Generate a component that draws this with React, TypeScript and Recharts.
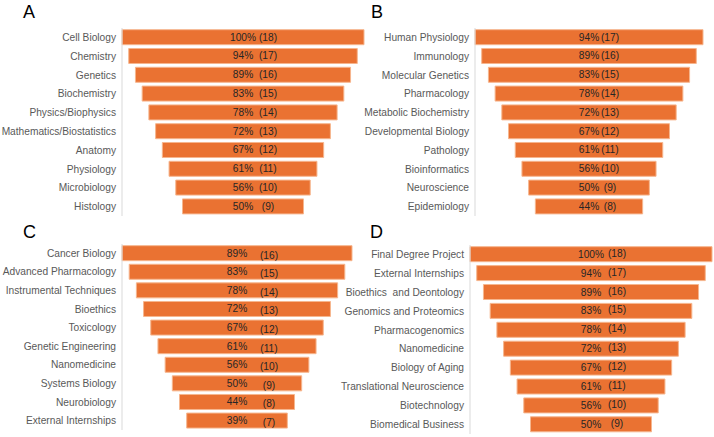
import React from 'react';
import { BarChart, Bar, XAxis, YAxis, LabelList } from 'recharts';

const subjectsA = ['Cell Biology', 'Chemistry', 'Genetics', 'Biochemistry', 'Physics/Biophysics', 'Mathematics/Biostatistics', 'Anatomy', 'Physiology', 'Microbiology', 'Histology'];
const countsA = [18, 17, 16, 15, 14, 13, 12, 11, 10, 9];
const pctA = [100, 94, 89, 83, 78, 72, 67, 61, 56, 50];

const subjectsB = ['Human Physiology', 'Immunology', 'Molecular Genetics', 'Pharmacology', 'Metabolic Biochemistry', 'Developmental Biology', 'Pathology', 'Bioinformatics', 'Neuroscience', 'Epidemiology'];
const countsB = [17, 16, 15, 14, 13, 12, 11, 10, 9, 8];
const pctB = [94, 89, 83, 78, 72, 67, 61, 56, 50, 44];

const subjectsC = ['Cancer Biology', 'Advanced Pharmacology', 'Instrumental Techniques', 'Bioethics', 'Toxicology', 'Genetic Engineering', 'Nanomedicine', 'Systems Biology', 'Neurobiology', 'External Internships'];
const countsC = [16, 15, 14, 13, 12, 11, 10, 9, 8, 7];
const pctC = [89, 83, 78, 72, 67, 61, 56, 50, 44, 39];

const subjectsD = ['Final Degree Project', 'External Internships', 'Bioethics  and Deontology', 'Genomics and Proteomics', 'Pharmacogenomics', 'Nanomedicine', 'Biology of Aging', 'Translational Neuroscience', 'Biotechnology', 'Biomedical Business'];
const countsD = [18, 17, 16, 15, 14, 13, 12, 11, 10, 9];
const pctD = [100, 94, 89, 83, 78, 72, 67, 61, 56, 50];

const FONT = '"Liberation Sans", Arial, sans-serif';
const ORANGE = '#EA7232';

function buildRows(subjects: string[], counts: number[], pcts: number[]) {
  const max = Math.max(...counts);
  return subjects.map((name, i) => ({
    name,
    pad: (max - counts[i]) / 2,
    count: counts[i],
    pct: pcts[i],
  }));
}

const SubjectTick = (props: any) => {
  const { x, y, payload } = props;
  return (
    <text x={x} y={y} textAnchor="end" dominantBaseline="central" fill="#595959" fontSize={10.2} fontFamily={FONT} style={{ whiteSpace: 'pre' }}>
      {payload.value}
    </text>
  );
};

function Funnel(props: {
  subjects: string[]; counts: number[]; pcts: number[];
  left: number; top: number; width: number; height: number;
  axisW: number; margin: { top: number; right: number; bottom: number };
  countOffset: number; countDy: number;
}) {
  const data = buildRows(props.subjects, props.counts, props.pcts);
  const max = Math.max(...props.counts);
  const renderLabel = (lp: any) => {
    const { x, y, width, height, index } = lp;
    const cx = x + width / 2;
    const cy = y + height / 2;
    const row = data[index];
    return (
      <g fontFamily={FONT} fontSize={10.2} fill="#262626">
        <text x={cx} y={cy} textAnchor="middle" dominantBaseline="central">{row.pct + '%'}</text>
        <text x={cx + props.countOffset} y={cy + props.countDy} textAnchor="middle" dominantBaseline="central">{'(' + row.count + ')'}</text>
      </g>
    );
  };
  return (
    <div style={{ position: 'absolute', left: props.left, top: props.top }}>
      <BarChart
        width={props.width}
        height={props.height}
        data={data}
        layout="vertical"
        barCategoryGap="9%"
        margin={{ top: props.margin.top, right: props.margin.right, bottom: props.margin.bottom, left: 0 }}
      >
        <XAxis type="number" domain={[0, max]} hide />
        <YAxis
          type="category"
          dataKey="name"
          width={props.axisW}
          tickLine={false}
          tickSize={4}
          tickMargin={2}
          axisLine={{ stroke: '#D9D9D9' }}
          tick={<SubjectTick />}
          interval={0}
        />
        <Bar dataKey="pad" stackId="f" fill="transparent" isAnimationActive={false} />
        <Bar dataKey="count" stackId="f" fill={ORANGE} stroke="#F6B68E" strokeWidth={1} isAnimationActive={false}>
          <LabelList dataKey="count" content={renderLabel} />
        </Bar>
      </BarChart>
    </div>
  );
}

const letterStyle: React.CSSProperties = {
  position: 'absolute', fontFamily: FONT, fontSize: 18, lineHeight: '18px', color: '#000',
};

export default function App() {
  return (
    <div style={{ position: 'fixed', left: 0, top: 0, width: 714, height: 437, background: '#fff', overflow: 'hidden' }}>
      <div style={{ ...letterStyle, left: 23, top: 3 }}>A</div>
      <div style={{ ...letterStyle, left: 371, top: 3 }}>B</div>
      <div style={{ ...letterStyle, left: 23, top: 223 }}>C</div>
      <div style={{ ...letterStyle, left: 370, top: 223 }}>D</div>
      <Funnel subjects={subjectsA} counts={countsA} pcts={pctA}
        left={0} top={0} width={370} height={220} axisW={122}
        margin={{ top: 28, right: 6, bottom: 4 }} countOffset={25} countDy={0} />
      <Funnel subjects={subjectsB} counts={countsB} pcts={pctB}
        left={355} top={0} width={359} height={220} axisW={120}
        margin={{ top: 28, right: 11, bottom: 4 }} countOffset={21} countDy={0} />
      <Funnel subjects={subjectsC} counts={countsC} pcts={pctC}
        left={0} top={220} width={370} height={217} axisW={122}
        margin={{ top: 24, right: 18, bottom: 7 }} countOffset={32} countDy={2} />
      <Funnel subjects={subjectsD} counts={countsD} pcts={pctD}
        left={330} top={220} width={384} height={217} axisW={140}
        margin={{ top: 25, right: 2, bottom: 3 }} countOffset={26} countDy={-1} />
    </div>
  );
}
